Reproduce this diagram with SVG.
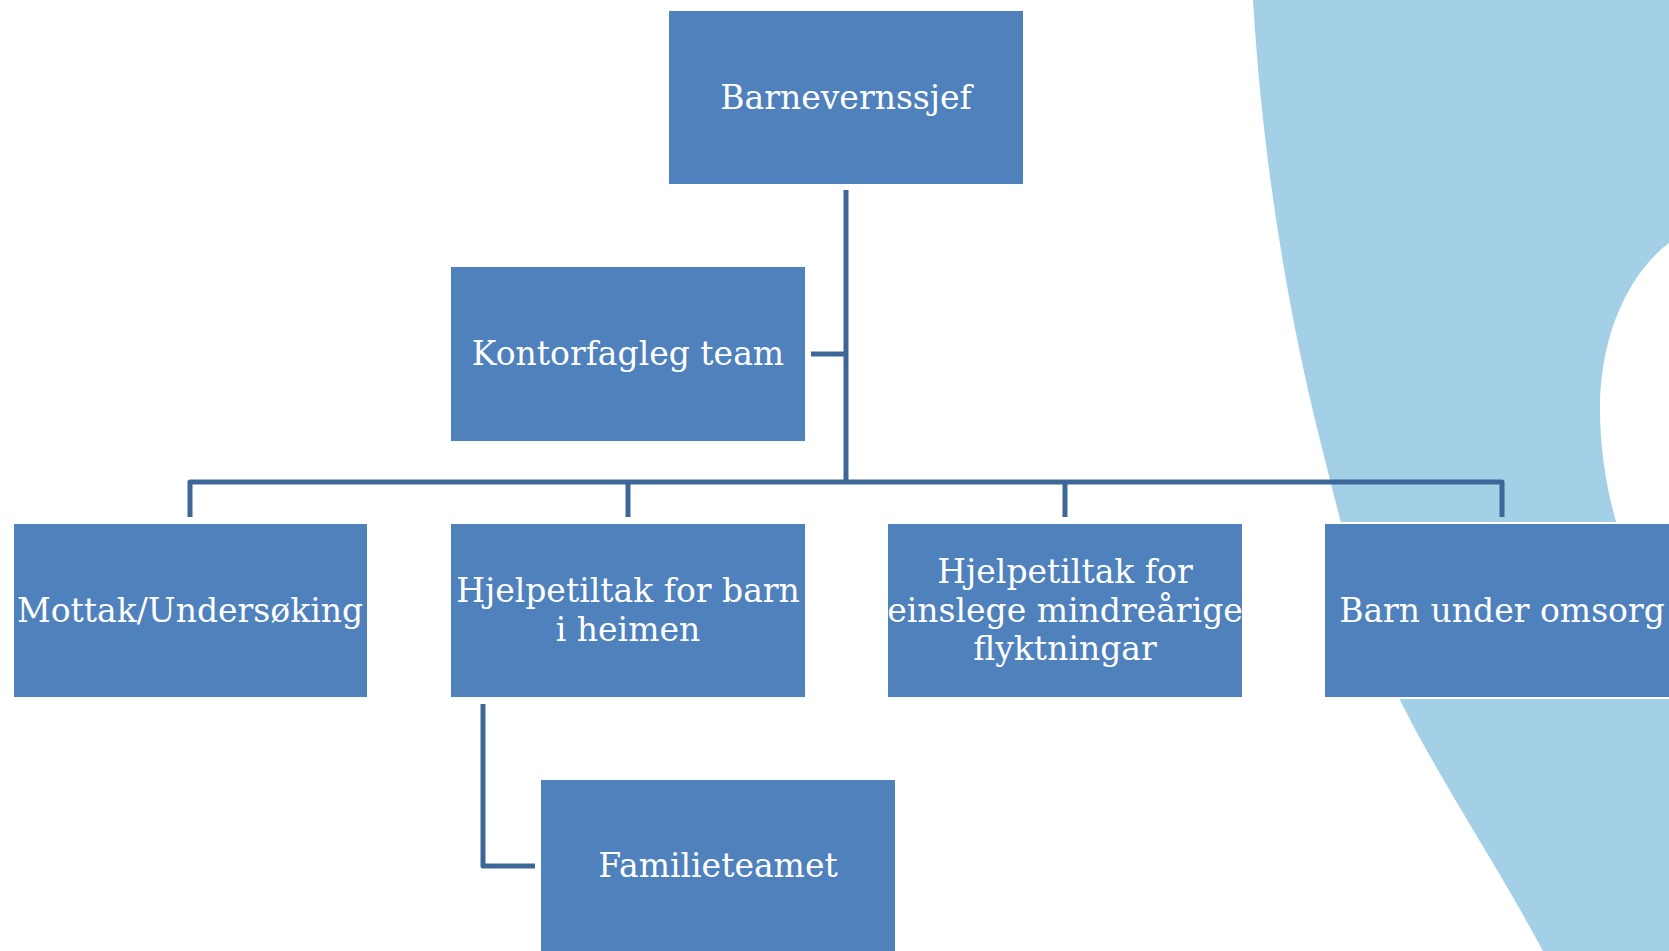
<svg xmlns="http://www.w3.org/2000/svg" width="1669" height="951" viewBox="0 0 1669 951">
<style>
.node rect{fill:#4F81BD;stroke:#ffffff;stroke-width:2}
.node text{font-family:"DejaVu Serif","Liberation Serif",serif;font-size:33px;fill:#ffffff;text-anchor:middle}
#connectors path{fill:none;stroke:#3D6699;stroke-width:5;stroke-linejoin:round;stroke-linecap:butt}
</style>
<rect x="0" y="0" width="1669" height="951" fill="#ffffff"/>
<g id="background">
<path d="M1253 0 C1262 150 1285 300 1320 440 C1345 540 1370 640 1402 704 C1440 780 1500 870 1543 951 L1669 951 L1669 0 Z" fill="#A3CFE7"/>
<path d="M1669 243 C1630 272 1599 335 1600 412 C1601 500 1630 580 1669 632 Z" fill="#ffffff"/>
</g>
<g id="connectors">
<path d="M846 190 V482"/>
<path d="M190 517 V482 H1502 V517"/>
<path d="M628 482 V517"/>
<path d="M1065 482 V517"/>
<path d="M811 354 H846"/>
<path d="M483 704 V866 H535"/>
</g>
<g id="n-barnevernssjef" class="node">
<rect x="668" y="10" width="356" height="175"/>
<text x="846" y="109">Barnevernssjef</text>
</g>
<g id="n-kontorfagleg" class="node">
<rect x="450" y="266" width="356" height="176"/>
<text x="628" y="365">Kontorfagleg team</text>
</g>
<g id="n-mottak" class="node">
<rect x="13" y="523" width="355" height="175"/>
<text x="190" y="622">Mottak/Undersøking</text>
</g>
<g id="n-hjelpetiltak-barn" class="node">
<rect x="450" y="523" width="356" height="175"/>
<text x="628" y="602">Hjelpetiltak for barn</text>
<text x="628" y="641">i heimen</text>
</g>
<g id="n-hjelpetiltak-einslege" class="node">
<rect x="887" y="523" width="356" height="175"/>
<text x="1065" y="583">Hjelpetiltak for</text>
<text x="1065" y="621.5">einslege mindreårige</text>
<text x="1065" y="660">flyktningar</text>
</g>
<g id="n-barn-omsorg" class="node">
<rect x="1324" y="523" width="356" height="175"/>
<text x="1502" y="622">Barn under omsorg</text>
</g>
<g id="n-familieteamet" class="node">
<rect x="540" y="779" width="356" height="176"/>
<text x="718" y="877">Familieteamet</text>
</g>
</svg>
